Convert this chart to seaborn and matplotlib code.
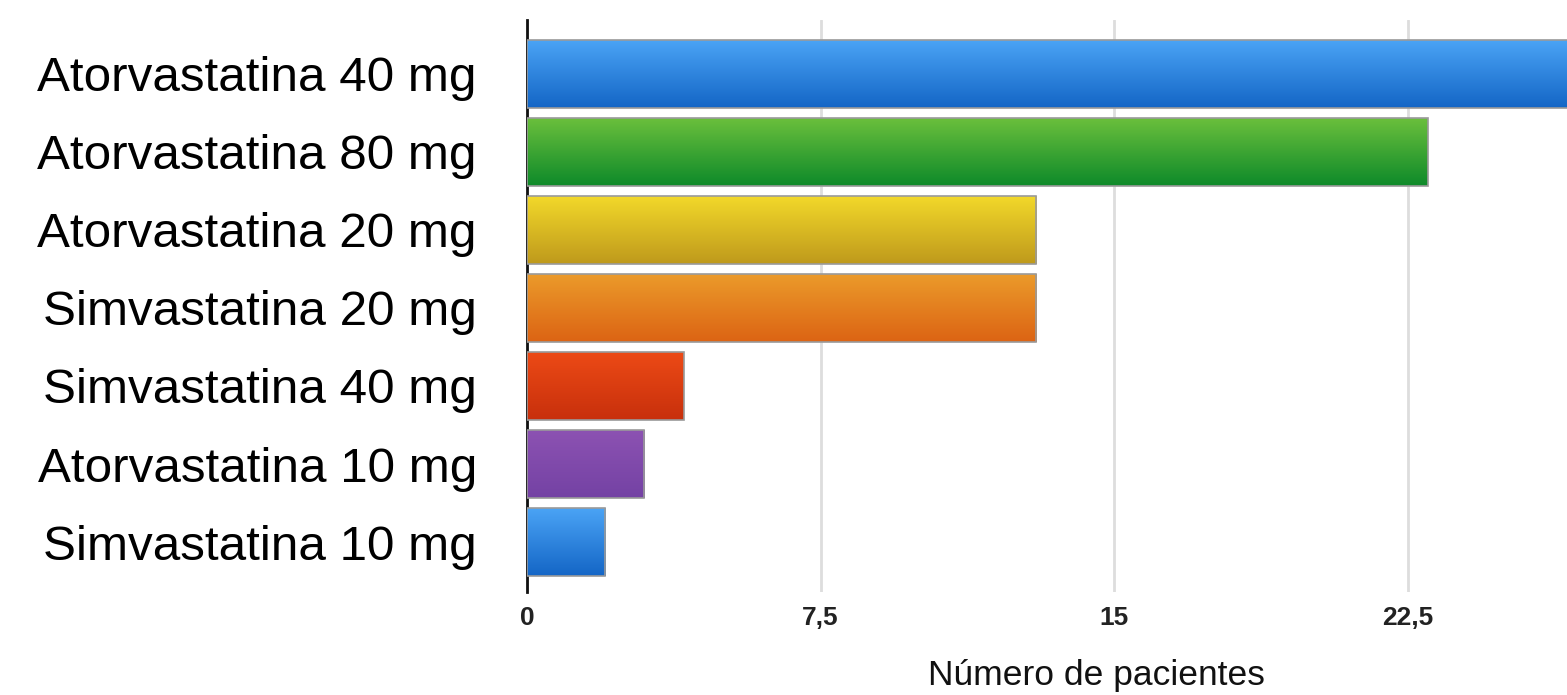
import numpy as np
import pandas as pd
import matplotlib
matplotlib.use("Agg")
import matplotlib.pyplot as plt
import seaborn as sns
from matplotlib.colors import LinearSegmentedColormap

# Data
medicamentos = [
    "Atorvastatina 40 mg",
    "Atorvastatina 80 mg",
    "Atorvastatina 20 mg",
    "Simvastatina 20 mg",
    "Simvastatina 40 mg",
    "Atorvastatina 10 mg",
    "Simvastatina 10 mg",
]
pacientes = [27, 23, 13, 13, 4, 3, 2]
x_ticks = [0, 7.5, 15, 22.5]
x_tick_labels = ["0", "7,5", "15", "22,5"]

# gradient colours (top, bottom) per bar
top_colors = ["#4aa3f5", "#6abf3c", "#f2d82a", "#eb9a2a", "#ec4a16", "#8c52b2", "#4aa3f5"]
bottom_colors = ["#1466c6", "#0e8a2a", "#bf9a1c", "#dc6414", "#c8300c", "#7442a4", "#1466c6"]

df = pd.DataFrame({"Medicamento": medicamentos, "Pacientes": pacientes})

sns.set_theme(style="white")
plt.rcParams["font.family"] = ["Liberation Sans", "DejaVu Sans"]

fig = plt.figure(figsize=(15.67, 6.95), dpi=100)
ax = fig.add_axes([0.3363, 0.1482, 0.6637, 0.8230])

sns.barplot(data=df, x="Pacientes", y="Medicamento", orient="h",
            color="white", width=0.87, ax=ax, zorder=3)

# paint vertical gradients clipped to each bar
for patch, c_top, c_bot in zip(ax.patches, top_colors, bottom_colors):
    x0, y0 = patch.get_x(), patch.get_y()
    w, h = patch.get_width(), patch.get_height()
    cmap = LinearSegmentedColormap.from_list("g", [c_top, c_bot])
    grad = np.linspace(0, 1, 64).reshape(-1, 1)
    # y axis is inverted: y0 is the top edge of the bar visually
    im = ax.imshow(grad, cmap=cmap, aspect="auto", origin="upper",
                   extent=[x0, x0 + w, y0 + h, y0], zorder=3,
                   interpolation="bilinear")
    im.set_clip_path(patch)
    patch.set_facecolor("none")
    patch.set_edgecolor("#9a9a9a")
    patch.set_linewidth(1.2)
    patch.set_zorder(4)

ax.set_xlim(0, 26.56)
ax.set_ylim(6.64, -0.69)

ax.set_xticks(x_ticks)
ax.set_xticklabels(x_tick_labels, fontsize=19, fontweight="bold", color="#222222")
ax.tick_params(axis="x", length=0, pad=10)
ax.tick_params(axis="y", length=0, pad=36, labelsize=35.6, labelcolor="black")

ax.grid(axis="x", color="#dddddd", linewidth=2, zorder=0)
ax.grid(axis="y", visible=False)

for s in ["top", "right", "bottom"]:
    ax.spines[s].set_visible(False)
ax.spines["left"].set_color("#111111")
ax.spines["left"].set_linewidth(2)

ax.set_ylabel("")
ax.set_xlabel("Número de pacientes", fontsize=25.5, color="#111111")
ax.xaxis.set_label_coords(0.548, -0.118)

fig.savefig("out.png", dpi=100)
